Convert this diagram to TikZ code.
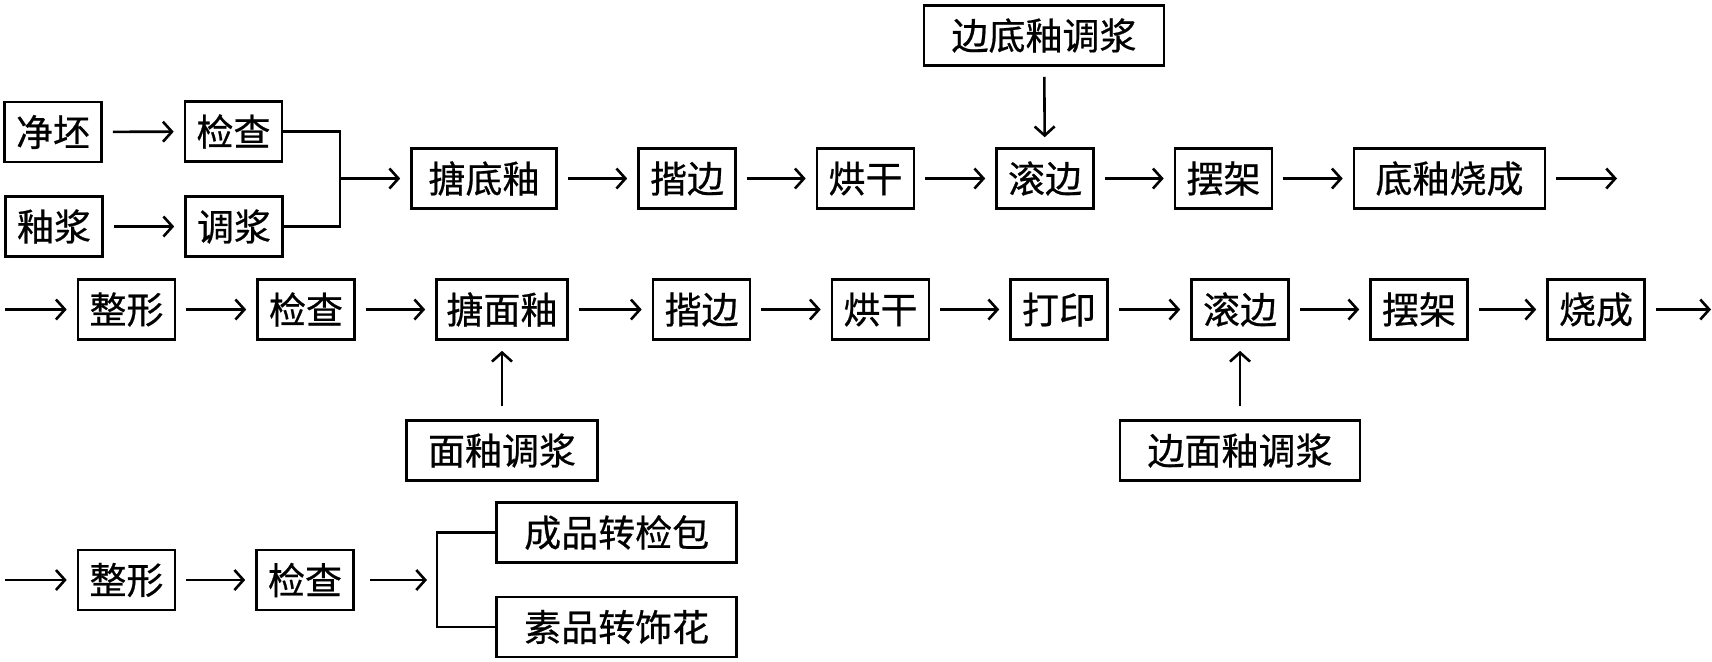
\documentclass[tikz,border=0pt]{standalone}
\usepackage{fontspec}
\setmainfont[FakeBold=0.6]{Noto Sans CJK SC}
\usepackage{tikz}
\usetikzlibrary{calc}
\usetikzlibrary{arrows.meta}
\usetikzlibrary{positioning}
\tikzset{
  stage/.style={draw, line width=1.3pt, minimum height=30pt, minimum width=#1, inner sep=0pt,
                font=\fontsize{18.5pt}{20pt}\selectfont},
  stage/.default=48.5pt,
  flow/.style={line width=1.3pt, -{Straight Barb[length=4.5pt,width=10pt]}, shorten >=5pt, shorten <=5pt},
  link/.style={line width=1.3pt},
}

\begin{document}
\begin{tikzpicture}[x=0.5pt, y=-0.5pt]
            \useasboundingbox                                   (0,0) rectangle (1712,661);
            % first line: bisque glaze
            \node[stage]        (jingpi)     at (  53.0, 132.0) {净坯};
            \node[stage]        (jiancha1)   at ( 233.5, 131.5) {检查};
            \node[stage]        (youjiang)   at (  54.0, 226.5) {釉浆};
            \node[stage]        (tiaojiang)  at ( 234.0, 226.5) {调浆};
            \node[stage=72.5pt] (tangdi)     at ( 484.0, 178.5) {搪底釉};
            \node[stage]        (kaibian1)   at ( 687.0, 178.5) {揩边};
            \node[stage]        (honggan1)   at ( 865.5, 178.5) {烘干};
            \node[stage]        (gunbian1)   at (1045.0, 178.5) {滚边};
            \node[stage]        (baijia1)    at (1223.5, 178.5) {摆架};
            \node[stage=95.5pt] (dishao)     at (1449.5, 178.5) {底釉烧成};
            \node[stage=120pt]  (biandi)     at (1044.0,  35.5) {边底釉调浆};
            \coordinate         (j1)         at ( 340.0, 178.5);
            \coordinate         (out1)       at (1617.0, 178.5);
            \draw[flow] (jingpi) -- (jiancha1);
            \draw[flow] (youjiang) -- (tiaojiang);
            \draw[link] (jiancha1.east) -| (j1);
            \draw[link] (tiaojiang.east) -| (j1);
            \draw[flow, shorten <=0pt] (j1) -- (tangdi);
            \draw[flow] (tangdi) -- (kaibian1);
            \draw[flow] (kaibian1) -- (honggan1);
            \draw[flow] (honggan1) -- (gunbian1);
            \draw[flow] (gunbian1) -- (baijia1);
            \draw[flow] (baijia1) -- (dishao);
            \draw[flow, shorten >=0pt] (dishao) -- (out1);
            \draw[flow] (biandi) -- (gunbian1);
            % second line: face glaze
            \coordinate         (in2)        at (   5.0, 309.5);
            \node[stage]        (zhengxing2) at ( 126.5, 309.5) {整形};
            \node[stage]        (jiancha2)   at ( 306.0, 309.5) {检查};
            \node[stage=65.5pt] (tangmian)   at ( 502.0, 309.5) {搪面釉};
            \node[stage]        (kaibian2)   at ( 701.5, 309.5) {揩边};
            \node[stage]        (honggan2)   at ( 880.5, 309.5) {烘干};
            \node[stage]        (dayin)      at (1059.0, 309.5) {打印};
            \node[stage]        (gunbian2)   at (1240.0, 309.5) {滚边};
            \node[stage]        (baijia2)    at (1419.0, 309.5) {摆架};
            \node[stage]        (shaocheng)  at (1596.0, 309.5) {烧成};
            \coordinate         (out2)       at (1711.0, 309.5);
            \node[stage=95.5pt] (mianyou)    at ( 502.0, 450.5) {面釉调浆};
            \node[stage=120pt]  (bianmian)   at (1240.0, 450.5) {边面釉调浆};
            \draw[flow, shorten <=0pt] (in2) -- (zhengxing2);
            \draw[flow] (zhengxing2) -- (jiancha2);
            \draw[flow] (jiancha2) -- (tangmian);
            \draw[flow] (tangmian) -- (kaibian2);
            \draw[flow] (kaibian2) -- (honggan2);
            \draw[flow] (honggan2) -- (dayin);
            \draw[flow] (dayin) -- (gunbian2);
            \draw[flow] (gunbian2) -- (baijia2);
            \draw[flow] (baijia2) -- (shaocheng);
            \draw[flow, shorten >=0pt] (shaocheng) -- (out2);
            \draw[flow, shorten <=6.5pt] (mianyou) -- (tangmian);
            \draw[flow, shorten <=6.5pt] (bianmian) -- (gunbian2);
            % third line: sorting
            \coordinate         (in3)        at (   5.0, 580.0);
            \node[stage]        (zhengxing3) at ( 126.5, 580.0) {整形};
            \node[stage]        (jiancha3)   at ( 305.0, 580.0) {检查};
            \coordinate         (j3)         at ( 437.0, 580.0);
            \node[stage=120pt]  (chengpin)   at ( 616.7, 532.5) {成品转检包};
            \node[stage=120pt]  (supin)      at ( 616.7, 627.0) {素品转饰花};
            \draw[flow, shorten <=0pt] (in3) -- (zhengxing3);
            \draw[flow] (zhengxing3) -- (jiancha3);
            \draw[flow, shorten <=7.5pt] (jiancha3) -- (j3);
            \draw[link] (chengpin.west) -| (j3) |- (supin.west);
\end{tikzpicture}
\end{document}
